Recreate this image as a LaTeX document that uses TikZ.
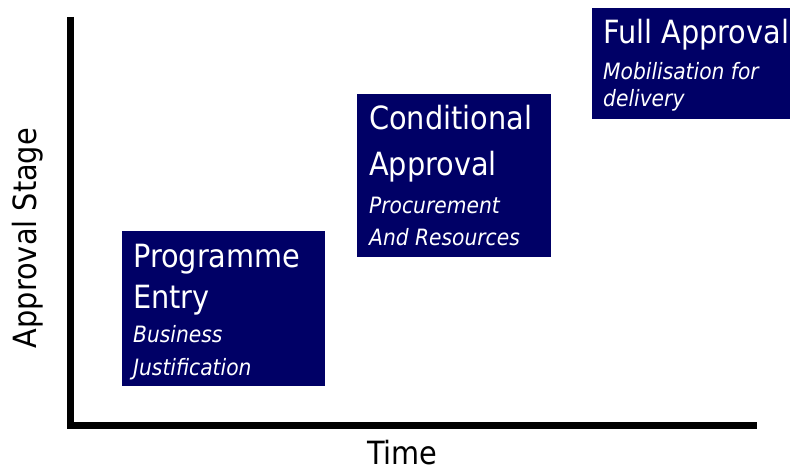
\documentclass[tikz,border=0pt]{standalone}
\usepackage{fontspec}
\setmainfont{DejaVu Sans Condensed}
\definecolor{navybox}{RGB}{0,0,102}
\begin{document}
\begin{tikzpicture}[x=1pt,y=-1pt,
  stagebox/.style={draw=none,fill=navybox,inner sep=0pt,outer sep=0pt},
  titletxt/.style={anchor=base west,inner sep=0pt,text=white,font=\fontsize{32}{32}\selectfont},
  subtxt/.style={anchor=base west,inner sep=0pt,text=white,font=\fontsize{22.5}{22.5}\selectfont\itshape},
  axislbl/.style={inner sep=0pt,text=black,font=\fontsize{32}{32}\selectfont},
  axisline/.style={line width=7pt,black}]
\useasboundingbox (0,0) rectangle (792,476);
% axes
\coordinate (ytop) at (70.5,17);
\coordinate (orig) at (70.5,425.5);
\coordinate (xend) at (757,425.5);
\draw[axisline] (ytop) -- (orig) -- (xend);
\node[axislbl,anchor=base,rotate=90] (ylab) at (36,238) {Approval Stage};
\node[axislbl,anchor=base] (xlab) at (402.5,464) {Time};
% box 1
\path[stagebox] (122,231) rectangle (325,386);
\node[titletxt] (b1t1) at (133,267) {Programme};
\node[titletxt] (b1t2) at (133,308) {Entry};
\node[subtxt] (b1s1) at (133,342) {Business};
\node[subtxt] (b1s2) at (133,375) {Justification};
% box 2
\path[stagebox] (357,94) rectangle (551,257);
\node[titletxt] (b2t1) at (369,129) {Conditional};
\node[titletxt] (b2t2) at (369,175) {Approval};
\node[subtxt] (b2s1) at (369,213) {Procurement};
\node[subtxt] (b2s2) at (369,245) {And Resources};
% box 3
\path[stagebox] (592,8) rectangle (790,119);
\node[titletxt] (b3t1) at (603,44) {Full Approval};
\node[subtxt] (b3s1) at (603,80) {Mobilisation for};
\node[subtxt] (b3s2) at (603,107) {delivery};
\end{tikzpicture}
\end{document}
